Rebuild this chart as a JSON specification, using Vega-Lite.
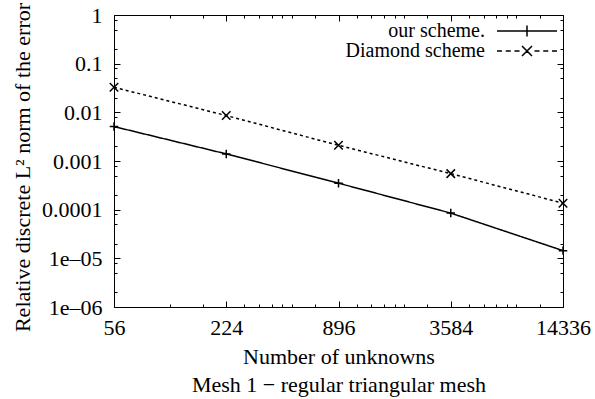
{
  "$schema": "https://vega.github.io/schema/vega-lite/v6.json",
  "width": 449,
  "height": 292,
  "autosize": {"type": "none"},
  "padding": {"left": 114, "top": 15, "right": 32, "bottom": 92},
  "background": "white",
  "config": {
    "font": "Liberation Serif, Times New Roman, serif",
    "view": {"stroke": "black", "strokeWidth": 1},
    "text": {"font": "Liberation Serif, Times New Roman, serif"},
    "axis": {
      "labelFont": "Liberation Serif, Times New Roman, serif",
      "titleFont": "Liberation Serif, Times New Roman, serif",
      "labelFontSize": 22,
      "titleFontSize": 22,
      "labelColor": "black",
      "titleColor": "black",
      "titleFontWeight": "normal",
      "grid": false,
      "domain": false,
      "tickColor": "black",
      "tickWidth": 1,
      "labelFlush": false,
      "labelOverlap": false
    },
    "legend": {
      "labelFont": "Liberation Serif, Times New Roman, serif",
      "labelFontSize": 20,
      "labelColor": "black"
    }
  },
  "data": {
    "values": [
      {"n": 56, "err": 0.0051, "series": "our scheme."},
      {"n": 224, "err": 0.0014, "series": "our scheme."},
      {"n": 896, "err": 0.00035, "series": "our scheme."},
      {"n": 3584, "err": 0.000085, "series": "our scheme."},
      {"n": 14336, "err": 0.0000144, "series": "our scheme."},
      {"n": 56, "err": 0.0327, "series": "Diamond scheme"},
      {"n": 224, "err": 0.0086, "series": "Diamond scheme"},
      {"n": 896, "err": 0.0021, "series": "Diamond scheme"},
      {"n": 3584, "err": 0.00055, "series": "Diamond scheme"},
      {"n": 14336, "err": 0.000136, "series": "Diamond scheme"}
    ]
  },
  "layer": [
    {
      "mark": {"type": "line", "color": "black", "strokeWidth": 1.5},
      "encoding": {
        "x": {
          "field": "n", "type": "quantitative",
          "scale": {"type": "log", "domain": [56, 14336], "nice": false},
          "axis": {
            "orient": "bottom",
            "values": [56, 112, 168, 224, 280, 336, 392, 448, 504, 672, 896, 1120, 1344, 1568, 1792, 2016, 2688, 3584, 4480, 5376, 6272, 7168, 8064, 10752, 14336],
            "labelExpr": "indexof([56,224,896,3584,14336], datum.value) >= 0 ? '' + datum.value : ''",
            "tickSize": {"condition": {"test": "indexof([56,224,896,3584,14336], datum.value) >= 0", "value": -6}, "value": -3},
            "labelPadding": 16,
            "title": ["Number of unknowns", "Mesh 1 − regular triangular mesh"],
            "titleY": 56,
            "titleBaseline": "alphabetic",
            "titleLineHeight": 28
          }
        },
        "y": {
          "field": "err", "type": "quantitative",
          "scale": {"type": "log", "domain": [0.000001, 1], "nice": false},
          "axis": {
            "orient": "left",
            "values": [1, 0.8, 0.5, 0.2, 0.1, 0.08, 0.05, 0.02, 0.01, 0.008, 0.005, 0.002, 0.001, 0.0008, 0.0005, 0.0002, 0.0001, 0.00008, 0.00005, 0.00002, 0.00001, 0.000008, 0.000005, 0.000002, 0.000001],
            "labelExpr": "datum.value == 1 ? '1' : datum.value == 0.1 ? '0.1' : datum.value == 0.01 ? '0.01' : datum.value == 0.001 ? '0.001' : datum.value == 0.0001 ? '0.0001' : datum.value == 0.00001 ? '1e–05' : datum.value == 0.000001 ? '1e–06' : ''",
            "tickSize": {"condition": {"test": "indexof([1,0.1,0.01,0.001,0.0001,0.00001,0.000001], datum.value) >= 0", "value": -6}, "value": -3},
            "labelPadding": 18,
            "title": "Relative discrete L² norm of the error",
            "titleX": -92,
            "titleY": 152,
            "titleAngle": 270,
            "titleAlign": "center",
            "titleBaseline": "middle"
          }
        },
        "strokeDash": {
          "field": "series", "type": "nominal",
          "scale": {"domain": ["our scheme.", "Diamond scheme"], "range": [[1, 0], [3, 3]]},
          "legend": null
        }
      }
    },
    {
      "mark": {"type": "point", "filled": false, "color": "black", "strokeWidth": 1.5, "size": 72, "opacity": 1},
      "encoding": {
        "x": {
          "field": "n", "type": "quantitative",
          "axis": {
            "orient": "top",
            "values": [56, 112, 168, 224, 280, 336, 392, 448, 504, 672, 896, 1120, 1344, 1568, 1792, 2016, 2688, 3584, 4480, 5376, 6272, 7168, 8064, 10752, 14336],
            "labels": false,
            "tickSize": {"condition": {"test": "indexof([56,224,896,3584,14336], datum.value) >= 0", "value": -6}, "value": -3},
            "title": null
          }
        },
        "y": {
          "field": "err", "type": "quantitative",
          "axis": {
            "orient": "right",
            "values": [1, 0.8, 0.5, 0.2, 0.1, 0.08, 0.05, 0.02, 0.01, 0.008, 0.005, 0.002, 0.001, 0.0008, 0.0005, 0.0002, 0.0001, 0.00008, 0.00005, 0.00002, 0.00001, 0.000008, 0.000005, 0.000002, 0.000001],
            "labels": false,
            "tickSize": {"condition": {"test": "indexof([1,0.1,0.01,0.001,0.0001,0.00001,0.000001], datum.value) >= 0", "value": -6}, "value": -3},
            "title": null
          }
        },
        "shape": {
          "field": "series", "type": "nominal",
          "scale": {"domain": ["our scheme.", "Diamond scheme"], "range": ["M-1,0H1M0,-1V1", "M-1,-1L1,1M-1,1L1,-1"]},
          "legend": null
        }
      }
    },
    {
      "transform": [{"filter": "false"}],
      "mark": {"type": "point", "filled": false, "color": "black", "strokeWidth": 1.3, "size": 64, "opacity": 1},
      "encoding": {
        "x": {"field": "n", "type": "quantitative", "axis": null},
        "y": {"field": "err", "type": "quantitative", "axis": null},
        "shape": {
          "field": "series", "type": "nominal",
          "scale": {"domain": ["our scheme.", "Diamond scheme"], "range": ["M-6,0H6M0,-1.1V1.1", "M-6,0H-5M-4.25,0H-3.25M-2.5,0H-1.5M1.5,0H2.5M3.25,0H4.25M5,0H6M-1,-1L1,1M-1,1L1,-1"]},
          "legend": {
            "title": null,
            "orient": "none",
            "legendX": 403,
            "legendY": 6,
            "padding": 0,
            "labelAlign": "right",
            "labelOffset": -52,
            "rowPadding": -4
          }
        }
      }
    }
  ],
  "resolve": {
    "axis": {"x": "independent", "y": "independent"},
    "scale": {"shape": "independent"}
  }
}
